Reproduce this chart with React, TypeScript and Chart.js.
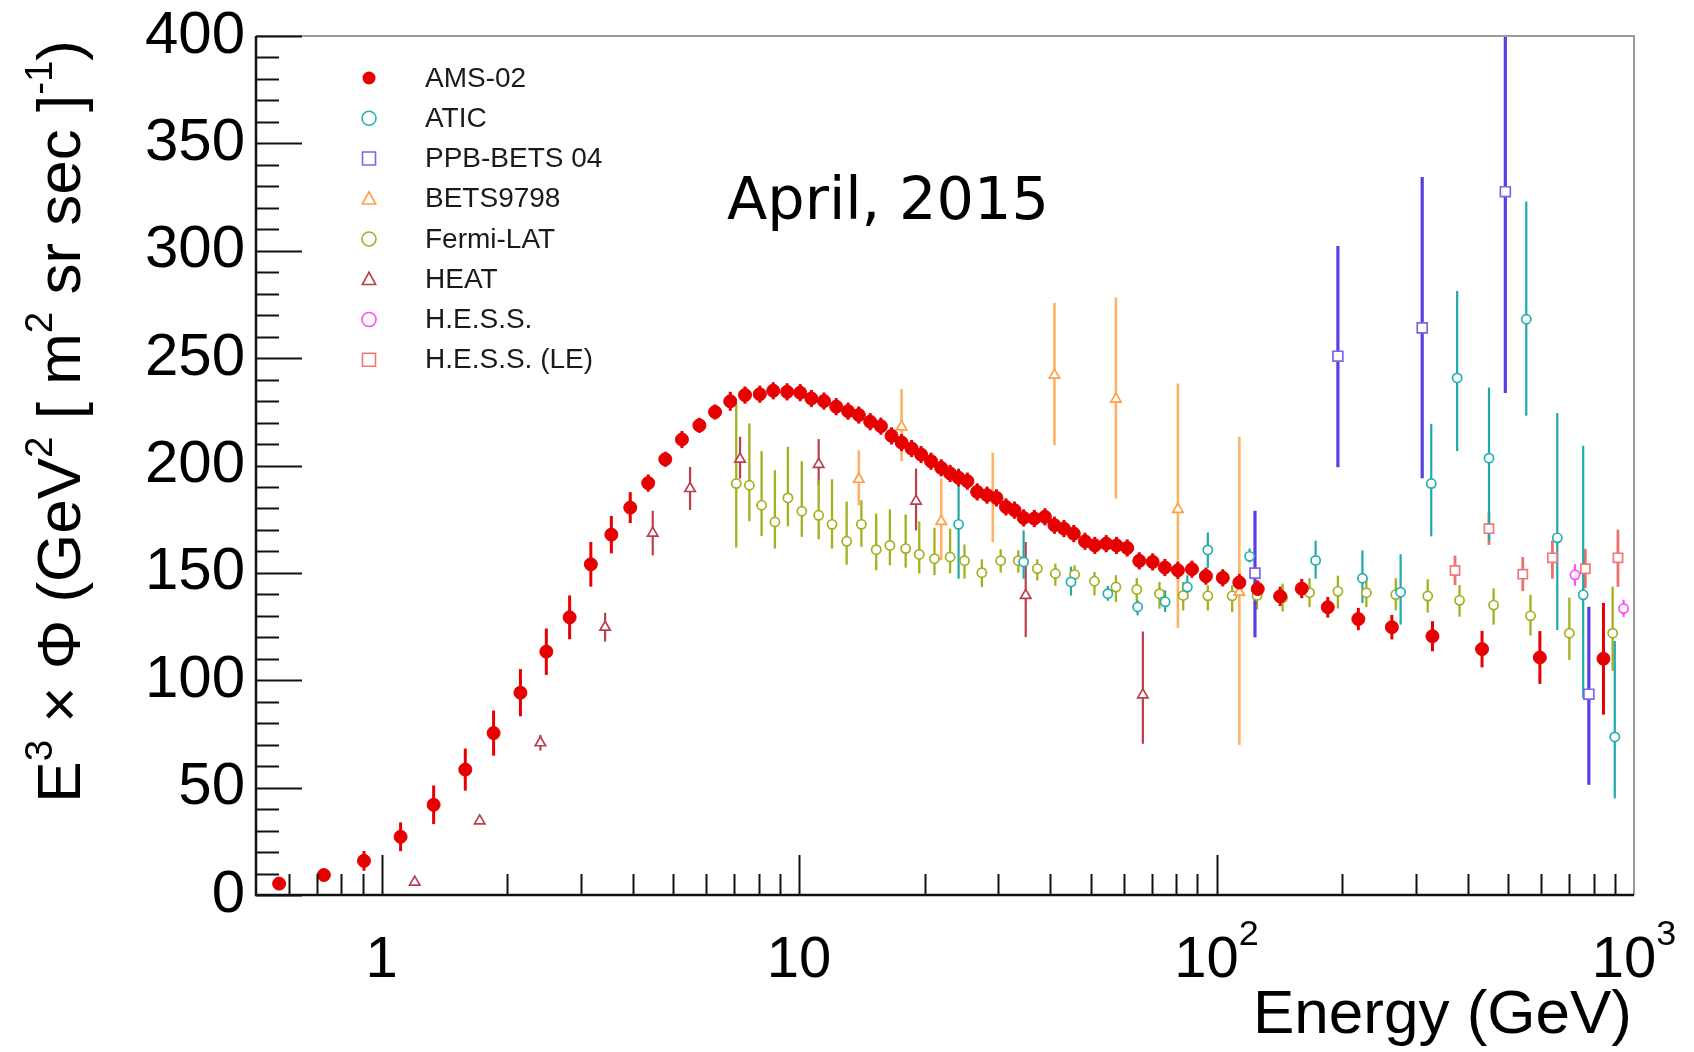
import React, { useEffect, useRef } from "react";
import { Chart, registerables } from "chart.js";

Chart.register(...registerables);

// ---------------- data ----------------
const amsEnergy = [0.568, 0.727, 0.907, 1.11, 1.332, 1.586, 1.854, 2.15, 2.48, 2.82, 3.17, 3.55, 3.94, 4.35, 4.78, 5.24, 5.77, 6.29, 6.84, 7.42, 8.05, 8.67, 9.36, 10.06, 10.7, 11.47, 12.27, 13.1, 13.9, 14.8, 15.7, 16.65, 17.6, 18.6, 19.6, 20.7, 21.9, 23.0, 24.1, 25.3, 26.7, 28.2, 29.7, 31.3, 32.8, 34.5, 36.6, 38.8, 40.9, 43.1, 45.5, 48.4, 51.1, 54.4, 57.6, 61.1, 65.3, 70.3, 75.2, 80.8, 87.3, 94.3, 103.5, 113.4, 125.5, 142, 160, 184.7, 218.6, 263, 329, 432.5, 595, 845];
const amsFlux = [5.3, 9.3, 15.9, 27.1, 42.0, 58.4, 75.4, 94.2, 113.3, 129.3, 154, 167.8, 180.4, 191.8, 202.9, 212.1, 218.7, 224.9, 229.9, 232.8, 233.2, 234.8, 234.3, 233.9, 231.2, 230, 227.4, 225.3, 223.5, 220.4, 218.3, 213.8, 210.7, 207.9, 205.1, 202, 198.9, 196.3, 194.3, 192.7, 187.7, 186.2, 184.9, 180.7, 179.2, 175.6, 175.3, 176.1, 172.2, 170.6, 168.3, 164.7, 162.8, 163.6, 162.8, 161.6, 155.6, 155.1, 152.5, 151.2, 151.7, 148.5, 147.7, 145.5, 142.5, 139.1, 142.7, 134, 128.5, 124.7, 120.5, 114.5, 110.6, 110];
const amsError = [1, 2, 4.6, 6.7, 9, 9.8, 10.5, 11, 10.8, 10.2, 10.4, 8.7, 7.2, 4, 3.5, 4, 3.5, 3.5, 4.4, 4, 4, 4, 4, 4, 4, 4, 4, 4, 4, 4, 4, 4, 4, 4, 4, 4, 4, 4, 4, 4, 4, 4, 4, 4, 4, 4, 4, 4, 4, 4, 4, 4, 4, 4, 4, 4, 4, 4, 4, 4, 4, 4, 4, 4, 4, 4.5, 4.5, 4.8, 5.2, 5.7, 7, 8.5, 12.3, 26];

const aticEnergy = [24.1, 34.5, 44.8, 54.9, 64.7, 75.3, 85.1, 95.3, 120, 172.7, 223.6, 276, 326.8, 377, 449.4, 552, 655, 755.6, 899.4];
const aticFlux = [172.6, 155.1, 145.8, 140.3, 134.1, 136.5, 143.4, 160.7, 157.7, 155.8, 147.5, 141, 191.6, 240.8, 203.4, 268.1, 166.3, 139.8, 73.6];
const aticLow = [147.3, 147.3, 139.4, 137, 130.2, 131.8, 138, 152.4, 154.9, 147.3, 136, 125.9, 167, 206.7, 165, 223.2, 123.4, 91.7, 45];
const aticHigh = [198.6, 169.8, 152.9, 144, 137.2, 141.9, 148.9, 168.8, 161.3, 165, 160.5, 158.7, 219.4, 281.3, 236.3, 322.9, 224.4, 209.2, 118.3];

const ppbEnergy = [123.6, 195.3, 310.9, 491.8, 779.6];
const ppbFlux = [149.9, 250.9, 264.1, 327.5, 93.5];
const ppbLow = [120, 199.2, 194.1, 233.8, 51.3];
const ppbHigh = [178.9, 302.2, 334.3, 420, 134.2];

const betsEnergy = [13.9, 17.6, 21.9, 29.1, 40.9, 57.4, 80.8, 113.4];
const betsFlux = [193.6, 218, 174, 185, 242.1, 230.9, 179.6, 141];
const betsLow = [181.5, 202, 155.9, 164.4, 209.5, 184.6, 124.3, 69.9];
const betsHigh = [207.1, 235.6, 193.9, 206, 275.7, 278.3, 238.2, 213.4];

const fermiEnergy = [7.07, 7.6, 8.13, 8.75, 9.4, 10.15, 11.14, 11.99, 13.0, 14.1, 15.3, 16.5, 18.0, 19.4, 21.1, 23.0, 24.9, 27.4, 30.4, 33.5, 37.2, 41.1, 45.7, 51.0, 57.4, 64.4, 73, 83.2, 95.3, 109, 125, 144, 167, 195.3, 228.5, 268.7, 320.5, 382, 461, 565, 700, 889];
const fermiFlux = [191.6, 190.8, 181.5, 173.7, 184.9, 178.7, 176.8, 172.6, 164.7, 172.6, 160.8, 162.8, 161.3, 158.6, 156.6, 157.4, 155.7, 150.1, 155.7, 155.7, 152, 149.7, 149.2, 146.1, 143.4, 142.3, 140.3, 139.5, 139.3, 139.3, 139.5, 138.5, 140.8, 141.4, 140.8, 139.9, 139.2, 137.2, 135, 130, 121.9, 121.9];
const fermiLow = [161.8, 174, 167.2, 161.3, 171.7, 166.8, 165.6, 161.3, 153.8, 162.1, 151.2, 153.5, 152.4, 149.7, 148.9, 149.7, 147.3, 143.4, 150.1, 150.1, 146.5, 144, 144.2, 139.5, 136.5, 135.2, 133.3, 132.5, 132.5, 131.7, 133, 132, 134, 133.4, 134, 132.5, 131.5, 129.6, 125.9, 120.8, 109.5, 104.4];
const fermiHigh = [228.9, 219.6, 206.7, 197.8, 208.7, 202, 193.2, 193.6, 183.2, 183.8, 177.6, 179.6, 177.2, 174, 171, 170.6, 163.2, 156.3, 161, 160.5, 156.3, 154.3, 153.5, 150.4, 148.9, 147.6, 145.8, 145.8, 144.2, 144.2, 146, 145, 147.5, 148.7, 148, 147.5, 147, 144.3, 142.8, 139.8, 138.5, 143.6];

const heatEnergy = [1.2, 1.717, 2.4, 3.43, 4.46, 5.48, 7.22, 11.14, 19.06, 34.9, 66.6];
const heatFlux = [6.0, 34.5, 70.9, 124.7, 168.5, 189.3, 203, 200.5, 183.4, 139.5, 93.2];
const heatLow = [4.5, 33, 67.2, 118, 158.1, 179.3, 193.9, 190.8, 169.8, 120.1, 70.4];
const heatHigh = [7.5, 36, 74.6, 131.4, 178.9, 199.3, 213.4, 212.3, 198.6, 164.4, 122.7];

const hessEnergy = [722, 944];
const hessFlux = [149.1, 133.4];
const hessLow = [144, 129.5];
const hessHigh = [154, 137.5];

const hessLeEnergy = [372.6, 449.4, 541.5, 637.6, 764.6, 915.4];
const hessLeFlux = [151.1, 170.6, 149.4, 157, 151.9, 157];
const hessLeLow = [144.3, 163, 141.5, 147.3, 142.8, 143.5];
const hessLeHigh = [158, 178.2, 157.4, 165, 161.2, 170.1];

const seriesLabels = ["AMS-02", "ATIC", "PPB-BETS 04", "BETS9798", "Fermi-LAT", "HEAT", "H.E.S.S.", "H.E.S.S. (LE)"];
const yTickValues = [0, 50, 100, 150, 200, 250, 300, 350, 400];
const xTickValues = [1, 10, 100, 1000];
const xTickLabels = ["1", "10", "10^2", "10^3"];
const xTitle = "Energy (GeV)";
const yTitleParts = ["E", "^3", " \u00d7 \u03a6 (GeV", "^2", " [ m", "^2", " sr sec ]", "^-1", ")"];
const annotationText = "April, 2015";

// ---------------- helpers ----------------
const FONT = '"Liberation Sans", Arial, Helvetica, sans-serif';

type Pt = { x: number; y: number; lo: number; hi: number };
function toPoints(e: number[], f: number[], lo: number[], hi: number[]): Pt[] {
  return e.map((v, i) => ({ x: v, y: f[i], lo: lo[i], hi: hi[i] }));
}
function symPoints(e: number[], f: number[], err: number[]): Pt[] {
  return e.map((v, i) => ({ x: v, y: f[i], lo: f[i] - err[i], hi: f[i] + err[i] }));
}

type Seg = { t: string; sup: boolean };
function parseRich(parts: string[]): Seg[] {
  return parts.map((p) => (p.startsWith("^") ? { t: p.slice(1), sup: true } : { t: p, sup: false }));
}
function parseLabel(s: string): Seg[] {
  const i = s.indexOf("^");
  if (i < 0) return [{ t: s, sup: false }];
  return [
    { t: s.slice(0, i), sup: false },
    { t: s.slice(i + 1), sup: true },
  ];
}
function richWidth(ctx: CanvasRenderingContext2D, segs: Seg[], size: number, ratio: number) {
  let w = 0;
  for (const s of segs) {
    ctx.font = `${s.sup ? size * ratio : size}px ${FONT}`;
    w += ctx.measureText(s.t).width;
  }
  return w;
}
function drawRichText(ctx: CanvasRenderingContext2D, segs: Seg[], x0: number, base: number, size: number, ratio: number, raise: number) {
  let x = x0;
  for (const s of segs) {
    ctx.font = `${s.sup ? size * ratio : size}px ${FONT}`;
    ctx.fillText(s.t, x, s.sup ? base - raise : base);
    x += ctx.measureText(s.t).width;
  }
}

function drawMarker(ctx: CanvasRenderingContext2D, style: string, x: number, y: number, r: number, color: string, filled: boolean, lw: number) {
  ctx.beginPath();
  if (style === "circle") {
    ctx.arc(x, y, r, 0, Math.PI * 2);
  } else if (style === "rect") {
    ctx.rect(x - r, y - r, 2 * r, 2 * r);
  } else {
    ctx.moveTo(x, y - r);
    ctx.lineTo(x + r * 0.95, y + r * 0.75);
    ctx.lineTo(x - r * 0.95, y + r * 0.75);
    ctx.closePath();
  }
  if (filled) {
    ctx.fillStyle = color;
    ctx.fill();
  } else {
    ctx.fillStyle = "#ffffff";
    ctx.fill();
    ctx.strokeStyle = color;
    ctx.lineWidth = lw;
    ctx.stroke();
  }
}

// ---------------- plugins ----------------
const backgroundPlugin = {
  id: "bgWhite",
  beforeDraw(chart: any) {
    const { ctx, width, height } = chart;
    ctx.save();
    ctx.fillStyle = "#ffffff";
    ctx.fillRect(0, 0, width, height);
    ctx.restore();
  },
};

const errorBarPlugin = {
  id: "errorBars",
  beforeDatasetsDraw(chart: any) {
    const { ctx, chartArea } = chart;
    const xs = chart.scales.x;
    const ys = chart.scales.y;
    ctx.save();
    ctx.beginPath();
    ctx.rect(chartArea.left, chartArea.top, chartArea.right - chartArea.left, chartArea.bottom - chartArea.top);
    ctx.clip();
    const dss = chart.data.datasets;
    for (let d = dss.length - 1; d >= 0; d--) {
      const ds = dss[d];
      ctx.strokeStyle = ds.errorColor;
      ctx.lineWidth = ds.errorWidth;
      for (const p of ds.data as Pt[]) {
        const px = xs.getPixelForValue(p.x);
        ctx.beginPath();
        ctx.moveTo(px, ys.getPixelForValue(p.lo));
        ctx.lineTo(px, ys.getPixelForValue(p.hi));
        ctx.stroke();
      }
    }
    ctx.restore();
  },
};

const decorPlugin = {
  id: "rootDecor",
  afterDraw(chart: any) {
    const { ctx, chartArea } = chart;
    const { left, right, top, bottom } = chartArea;
    const xs = chart.scales.x;
    const ys = chart.scales.y;
    ctx.save();

    // frame
    ctx.lineWidth = 2;
    ctx.strokeStyle = "#9a9a9a";
    ctx.beginPath();
    ctx.moveTo(left, top);
    ctx.lineTo(right, top);
    ctx.lineTo(right, bottom);
    ctx.stroke();
    ctx.strokeStyle = "#111111";
    ctx.lineWidth = 2.5;
    ctx.beginPath();
    ctx.moveTo(left, top);
    ctx.lineTo(left, bottom);
    ctx.lineTo(right, bottom);
    ctx.stroke();

    // y ticks (inside)
    ctx.lineWidth = 2;
    for (let v = ys.min; v <= ys.max + 0.001; v += 10) {
      const py = Math.round(ys.getPixelForValue(v)) + 0.5;
      const len = yTickValues.includes(v) ? 46 : 23;
      ctx.beginPath();
      ctx.moveTo(left, py);
      ctx.lineTo(left + len, py);
      ctx.stroke();
    }
    // x ticks (inside)
    for (const dec of [0.1, 1, 10, 100]) {
      for (let k = 1; k <= 9; k++) {
        const v = dec * k;
        if (v < xs.min * 1.0001 || v > xs.max * 1.0001) continue;
        const px = Math.round(xs.getPixelForValue(v)) + 0.5;
        const len = k === 1 ? 40 : 21;
        ctx.beginPath();
        ctx.moveTo(px, bottom);
        ctx.lineTo(px, bottom - len);
        ctx.stroke();
      }
    }

    // x tick labels
    ctx.fillStyle = "#000000";
    ctx.textAlign = "left";
    ctx.textBaseline = "alphabetic";
    xTickValues.forEach((v, i) => {
      const segs = parseLabel(xTickLabels[i]);
      const w = richWidth(ctx, segs, 58, 0.62);
      const px = xs.getPixelForValue(v);
      drawRichText(ctx, segs, px - w / 2, bottom + 82, 58, 0.62, 32);
    });

    // x title
    ctx.font = `62px ${FONT}`;
    ctx.textAlign = "right";
    ctx.fillText(xTitle, right - 2, bottom + 138);

    // y title (rotated, aligned to top)
    ctx.textAlign = "left";
    const ySegs = parseRich(yTitleParts);
    const yw = richWidth(ctx, ySegs, 62, 0.62);
    ctx.save();
    ctx.translate(80, 0);
    ctx.rotate(-Math.PI / 2);
    drawRichText(ctx, ySegs, -(top + 4 + yw), 0, 62, 0.62, 28);
    ctx.restore();

    // legend
    const dss = chart.data.datasets;
    dss.forEach((ds: any, i: number) => {
      const ly = top + 42 + i * 40.25;
      const lx = left + 113;
      drawMarker(ctx, ds.pointStyle, lx, ly, ds.legendR, ds.borderColor, ds.filled, 1.6);
      ctx.fillStyle = "#1a1a1a";
      ctx.font = `28px ${FONT}`;
      ctx.textAlign = "left";
      ctx.textBaseline = "middle";
      ctx.fillText(ds.label, left + 169, ly + 1);
    });

    // annotation (fit to the reference width)
    ctx.fillStyle = "#000000";
    ctx.textBaseline = "alphabetic";
    ctx.textAlign = "left";
    ctx.font = '58px "DejaVu Sans", sans-serif';
    const aw = ctx.measureText(annotationText).width;
    const asize = Math.max(50, Math.min(66, (58 * 322) / aw));
    ctx.font = `${asize}px "DejaVu Sans", sans-serif`;
    ctx.fillText(annotationText, 727, 219);

    ctx.restore();
  },
};

// ---------------- component ----------------
export default function App() {
  const canvasRef = useRef<HTMLCanvasElement | null>(null);

  useEffect(() => {
    const canvas = canvasRef.current;
    if (!canvas) return;

    const mk = (label: string, data: Pt[], style: string, r: number, color: string, barColor: string, barW: number, filled: boolean, legendR: number) => ({
      label,
      data,
      pointStyle: style,
      pointRadius: r,
      pointBorderWidth: filled ? 1 : 1.7,
      borderColor: color,
      backgroundColor: filled ? color : "#ffffff",
      pointBackgroundColor: filled ? color : "#ffffff",
      pointBorderColor: color,
      showLine: false,
      errorColor: barColor,
      errorWidth: barW,
      filled,
      legendR,
    });

    const datasets: any[] = [
      mk(seriesLabels[0], symPoints(amsEnergy, amsFlux, amsError), "circle", 6.5, "#e60000", "#e60000", 3, true, 6.5),
      mk(seriesLabels[1], toPoints(aticEnergy, aticFlux, aticLow, aticHigh), "circle", 4.6, "#22b0b2", "#1fa9aa", 2.2, false, 7),
      mk(seriesLabels[2], toPoints(ppbEnergy, ppbFlux, ppbLow, ppbHigh), "rect", 7, "#7a66e8", "#5c3ee0", 3.2, false, 6.5),
      mk(seriesLabels[3], toPoints(betsEnergy, betsFlux, betsLow, betsHigh), "triangle", 6, "#ff9f45", "#ffb266", 2.6, false, 7),
      mk(seriesLabels[4], toPoints(fermiEnergy, fermiFlux, fermiLow, fermiHigh), "circle", 4.6, "#a4b020", "#a4b020", 2.3, false, 7),
      mk(seriesLabels[5], toPoints(heatEnergy, heatFlux, heatLow, heatHigh), "triangle", 6, "#b8404c", "#b8404c", 2.2, false, 7),
      mk(seriesLabels[6], toPoints(hessEnergy, hessFlux, hessLow, hessHigh), "circle", 4.6, "#ff4dff", "#ff4dff", 2.2, false, 7),
      mk(seriesLabels[7], toPoints(hessLeEnergy, hessLeFlux, hessLeLow, hessLeHigh), "rect", 6.5, "#f07878", "#ee7070", 2.8, false, 6.5),
    ];

    const chart = new Chart(canvas, {
      type: "scatter",
      data: { datasets },
      options: {
        animation: false,
        responsive: false,
        events: [],
        layout: { autoPadding: false, padding: { left: 0, right: 60, top: 36, bottom: 0 } },
        plugins: { legend: { display: false }, tooltip: { enabled: false }, title: { display: false } },
        scales: {
          x: {
            type: "logarithmic",
            min: 0.5,
            max: 1000,
            grid: { display: false, drawTicks: false },
            border: { display: false },
            ticks: { display: false },
            afterFit: (scale: any) => {
              scale.height = 157;
              scale.paddingLeft = 0;
              scale.paddingRight = 0;
            },
          },
          y: {
            type: "linear",
            min: 0,
            max: 400,
            grid: { display: false, drawTicks: false },
            border: { display: false },
            ticks: {
              stepSize: 50,
              padding: 11,
              color: "#000000",
              font: { family: FONT, size: 60 },
              callback: (v: any) => (yTickValues.includes(Number(v)) ? String(v) : ""),
            },
            afterFit: (scale: any) => {
              scale.width = 256;
              scale.paddingTop = 0;
              scale.paddingBottom = 0;
            },
          },
        },
      } as any,
      plugins: [backgroundPlugin, errorBarPlugin, decorPlugin],
    });

    return () => {
      chart.destroy();
    };
  }, []);

  return (
    <div style={{ position: "absolute", left: 0, top: 0, width: 1694, height: 1052, background: "#ffffff" }}>
      <canvas ref={canvasRef} width={1694} height={1052} style={{ display: "block", width: 1694, height: 1052 }} />
    </div>
  );
}
